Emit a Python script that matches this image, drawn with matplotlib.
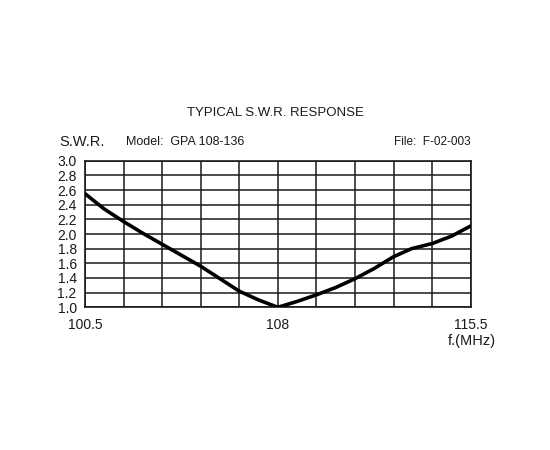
import numpy as np
import matplotlib.pyplot as plt

plt.rcParams['font.family'] = ['Liberation Sans', 'DejaVu Sans']

# frequency (MHz) and SWR
freq = [100.5, 101.25, 102.0, 102.75, 103.5, 104.25, 105.0, 105.75, 106.5, 107.25, 108.0,
        108.75, 109.5, 110.25, 111.0, 111.75, 112.5, 113.2, 114.0, 114.75, 115.5]
swr = [2.55, 2.34, 2.17, 2.01, 1.86, 1.71, 1.56, 1.39, 1.22, 1.10, 1.00,
       1.08, 1.17, 1.27, 1.39, 1.53, 1.69, 1.80, 1.87, 1.97, 2.11]

y_ticks = [1.0, 1.2, 1.4, 1.6, 1.8, 2.0, 2.2, 2.4, 2.6, 2.8, 3.0]
x_grid = np.arange(100.5, 115.51, 1.5)
x_labels = ['100.5', '108', '115.5']
x_label_pos = [100.5, 108.0, 115.5]

fig = plt.figure(figsize=(5.5, 4.5), dpi=100)
ax = fig.add_axes([85 / 550, 1 - 307.3 / 450, 385.7 / 550, 146.6 / 450])

ink = '#1a1a1a'
for x in x_grid:
    ax.axvline(x, color=ink, lw=1.1, zorder=1)
for y in y_ticks:
    ax.axhline(y, color=ink, lw=1.1, zorder=1)

ax.plot(freq, swr, color='black', lw=2.6, zorder=3, solid_capstyle='round',
        solid_joinstyle='round')

ax.set_xlim(100.5, 115.5)
ax.set_ylim(1.0, 3.0)
ax.set_yticks(y_ticks)
ax.set_yticklabels(['%.1f' % v for v in y_ticks])
ax.set_xticks(x_label_pos)
ax.set_xticklabels(x_labels)
ax.tick_params(length=0, labelsize=10, colors=ink)
ax.tick_params(axis='y', pad=6)
ax.tick_params(axis='x', pad=8)
for s in ax.spines.values():
    s.set_color(ink)
    s.set_linewidth(1.2)

fig.text(275 / 550, 1 - 113 / 450, 'TYPICAL S.W.R. RESPONSE', ha='center', va='center',
         fontsize=9.5, color=ink)
fig.text(59 / 550, 1 - 142 / 450, 'S.W.R.', ha='left', va='center', fontsize=10.5, color=ink)
fig.text(126 / 550, 1 - 142 / 450, 'Model:  GPA 108-136', ha='left', va='center',
         fontsize=9, color=ink)
fig.text(471 / 550, 1 - 142 / 450, 'File:  F-02-003', ha='right', va='center',
         fontsize=8.5, color=ink)
fig.text(496 / 550, 1 - 341 / 450, 'f.(MHz)', ha='right', va='center', fontsize=10.5, color=ink)

fig.savefig('out.png', dpi=100, facecolor='white')
